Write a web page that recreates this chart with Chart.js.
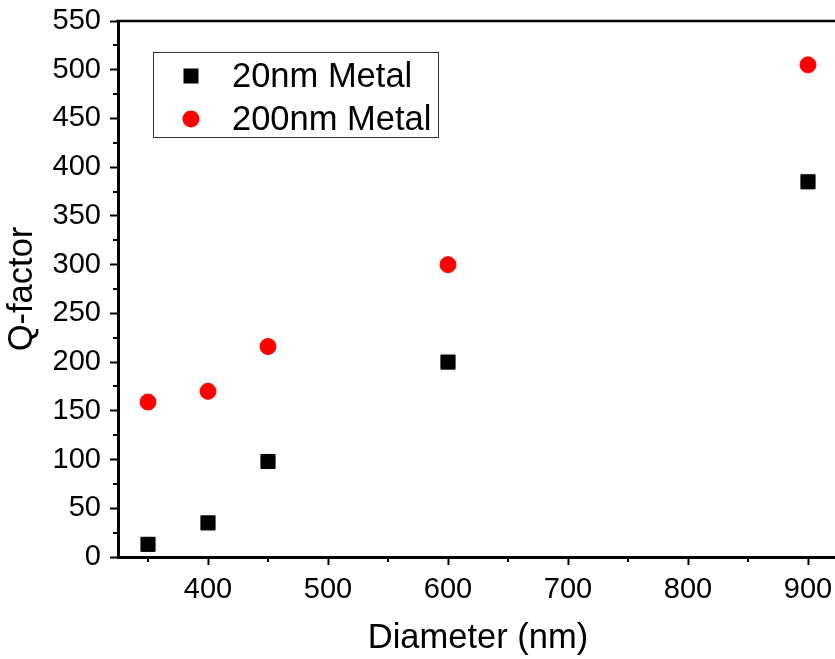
<!DOCTYPE html>
<html>
<head>
<meta charset="utf-8">
<script src="https://cdn.jsdelivr.net/npm/chart.js@4.4.1/dist/chart.umd.min.js"></script>
<style>
  html, body { margin: 0; padding: 0; background: #fff; overflow: hidden; }
  #wrap { width: 850px; height: 659px; }
</style>
</head>
<body>
<div id="wrap"><canvas id="qChart" width="850" height="659"></canvas></div>
<script>
// data
const diameters = [350, 400, 450, 600, 900];
const q20nm = [13, 35, 98, 200, 385];
const q200nm = [159, 170, 216, 300, 505];
const seriesNames = ['20nm Metal', '200nm Metal'];
const xTicks = [400, 500, 600, 700, 800, 900];
const xMinor = [350, 450, 550, 650, 750, 850];
const yMinor = [25, 75, 125, 175, 225, 275, 325, 375, 425, 475, 525];

const FONT = '"Liberation Sans", Arial, sans-serif';

const toPoints = (ys) => diameters.map((d, i) => ({ x: d, y: ys[i] }));

// top frame line, minor ticks and the boxed legend
const frameAndLegend = {
    id: 'frameAndLegend',
    afterDraw(chart) {
        const c = chart.ctx;
        const area = chart.chartArea;
        const xs = chart.scales.x;
        const ys = chart.scales.y;
        c.save();
        c.strokeStyle = '#000';

        // top border
        c.lineWidth = 2.5;
        c.beginPath();
        c.moveTo(area.left - 1.5, area.top);
        c.lineTo(area.right, area.top);
        c.stroke();

        // minor ticks
        c.lineWidth = 2;
        c.beginPath();
        xMinor.forEach(v => {
            const px = Math.round(xs.getPixelForValue(v));
            c.moveTo(px, area.bottom);
            c.lineTo(px, area.bottom + 5);
        });
        yMinor.forEach(v => {
            const py = Math.round(ys.getPixelForValue(v));
            c.moveTo(area.left, py);
            c.lineTo(area.left - 5, py);
        });
        c.stroke();

        // legend box
        const bx = area.left + 35, by = area.top + 31, bw = 285, bh = 85;
        c.lineWidth = 1;
        c.strokeStyle = '#333';
        c.strokeRect(bx + 0.5, by + 0.5, bw, bh);

        c.font = '34.5px ' + FONT;
        c.textBaseline = 'middle';
        c.textAlign = 'left';
        chart.data.datasets.forEach((ds, i) => {
            const cy = by + 24 + i * 43;
            const cx = bx + 38;
            c.fillStyle = ds.backgroundColor;
            if (ds.pointStyle === 'rect') {
                c.fillRect(cx - 7.5, cy - 7.5, 15, 15);
            } else {
                c.beginPath();
                c.arc(cx, cy, 8.5, 0, Math.PI * 2);
                c.fill();
            }
            c.fillStyle = '#000';
            c.fillText(ds.label, bx + 79, cy + 1);
        });
        c.restore();
    }
};

new Chart(document.getElementById('qChart'), {
    type: 'scatter',
    data: {
        datasets: [{
            label: seriesNames[0],
            data: toPoints(q20nm),
            pointStyle: 'rect',
            pointRadius: 10,
            backgroundColor: '#000',
            borderColor: '#000',
            borderWidth: 1
        }, {
            label: seriesNames[1],
            data: toPoints(q200nm),
            pointStyle: 'circle',
            pointRadius: 8,
            backgroundColor: '#ff0000',
            borderColor: '#ff0000',
            borderWidth: 1
        }]
    },
    options: {
        responsive: false,
        animation: false,
        devicePixelRatio: 1,
        layout: { padding: { top: 21, right: 12, left: 0, bottom: 0 } },
        plugins: {
            legend: { display: false },
            tooltip: { enabled: false }
        },
        scales: {
            x: {
                type: 'linear',
                min: 325,
                max: 925,
                afterBuildTicks: (scale) => { scale.ticks = xTicks.map(v => ({ value: v })); },
                afterFit: (scale) => {
                    scale.height = 102;
                    scale.paddingLeft = 0;
                    scale.paddingRight = 0;
                },
                border: { display: true, color: '#000', width: 3 },
                grid: { drawOnChartArea: false, drawTicks: true, tickLength: 8, tickWidth: 2, tickColor: '#000' },
                ticks: { color: '#000', font: { family: FONT, size: 29 }, padding: 8, maxRotation: 0 },
                title: {
                    display: true,
                    text: 'Diameter (nm)',
                    color: '#000',
                    font: { family: FONT, size: 34.5 },
                    padding: { top: 0, bottom: 0 }
                }
            },
            y: {
                min: 0,
                max: 550,
                ticks: { stepSize: 50, color: '#000', font: { family: FONT, size: 29 }, padding: 9 },
                afterFit: (scale) => {
                    scale.width = 118;
                    scale.paddingTop = 0;
                    scale.paddingBottom = 0;
                },
                border: { display: true, color: '#000', width: 3 },
                grid: { drawOnChartArea: false, drawTicks: true, tickLength: 8, tickWidth: 2, tickColor: '#000' },
                title: {
                    display: true,
                    text: 'Q-factor',
                    color: '#000',
                    font: { family: FONT, size: 34.5 },
                    padding: { top: 2, bottom: 0 }
                }
            }
        }
    },
    plugins: [frameAndLegend]
});
</script>
</body>
</html>
